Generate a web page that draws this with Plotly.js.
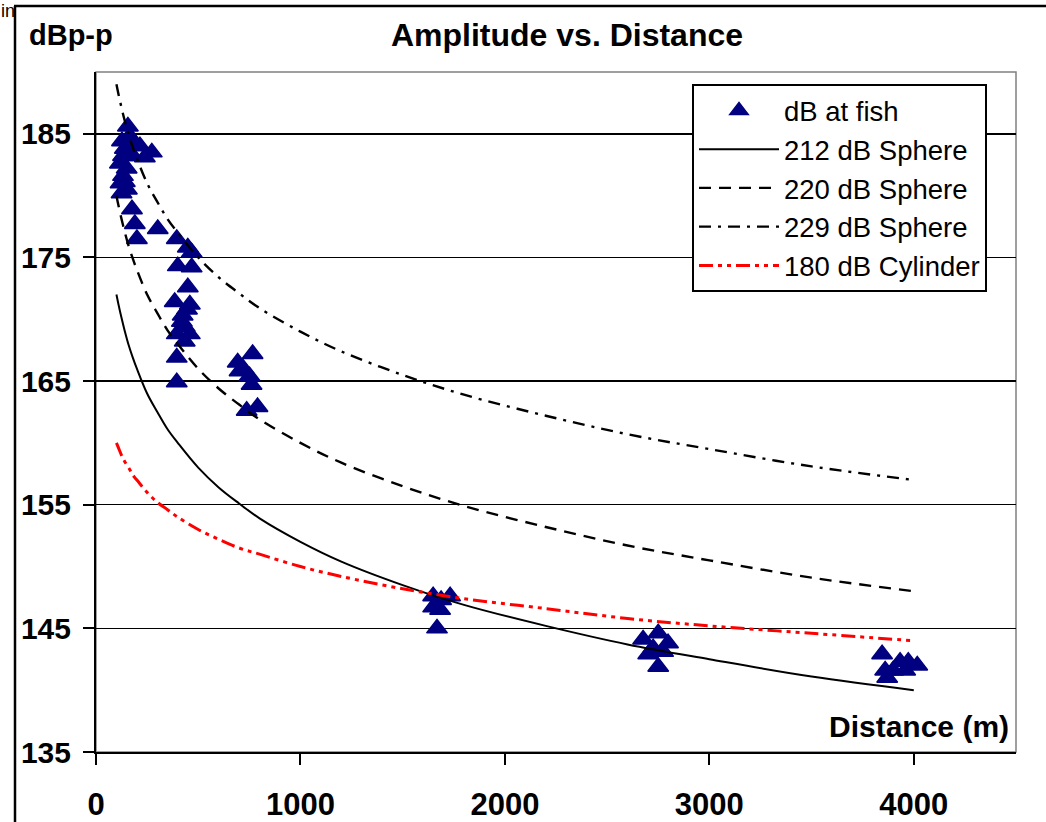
<!DOCTYPE html>
<html>
<head>
<meta charset="utf-8">
<script src="https://cdn.plot.ly/plotly-3.0.1.min.js"></script>
<style>
  html, body { margin: 0; padding: 0; background: #fff; }
  #chart { width: 1046px; height: 822px; }
  #corner { position: absolute; left: 0; top: 0; height: 24px;
            font-family: 'Liberation Sans', Arial, sans-serif; font-size: 18px; line-height: 22px;
            color: #000; z-index: 5; white-space: nowrap; padding-left: 1px; }
</style>
</head>
<body>
<div id="corner">in</div>
<div id="chart"></div>
<script>
// ---- data ----
const fishDistance = [156,215,273,127,132,180,239,117,141,132,141,151,120,176,190,302,200,165,190,150,125,
  395,449,468,400,468,449,385,459,424,434,395,459,434,395,395,420,445,
  693,766,702,751,761,737,790,720,
  1649,1688,1732,1649,1683,1668,
  2676,2750,2798,2725,2774,2750,2701,
  3845,3860,3870,3933,3973,4017,3899,3958];
const fishDb = [185.6,184.0,183.5,184.4,183.2,183.2,183.1,182.6,183.8,181.6,181.1,180.5,181.0,178.9,177.7,177.3,176.5,184.8,184.2,182.2,180.2,
  176.5,175.8,175.4,174.3,174.2,172.6,171.4,171.2,170.3,169.4,168.8,168.8,168.2,166.9,164.9,169.8,170.8,
  166.5,167.2,165.8,165.4,164.7,162.6,162.9,166.0,
  147.6,147.3,147.6,146.7,146.5,145.0,
  144.1,144.6,143.8,143.4,143.1,141.9,142.9,
  142.9,141.6,141.0,142.3,142.3,142.0,141.6,141.6];

const curveDistance = [100,110,125,140,160,180,200,250,300,350,400,500,600,700,800,1000,1200,1500,1800,2200,2600,3000,3500,4000];
const sphere212 = [172.0,171.2,170.1,169.1,167.9,166.9,166.0,164.0,162.5,161.1,160.0,158.0,156.4,155.1,153.9,152.0,150.4,148.5,146.9,145.2,143.7,142.5,141.1,140.0];
const sphere220 = [180.0,179.2,178.1,177.1,175.9,174.9,174.0,172.0,170.5,169.1,168.0,166.0,164.4,163.1,161.9,160.0,158.4,156.5,154.9,153.2,151.7,150.5,149.1,148.0];
const sphere229 = [189.0,188.2,187.1,186.1,184.9,183.9,183.0,181.0,179.5,178.1,177.0,175.0,173.4,172.1,170.9,169.0,167.4,165.5,163.9,162.2,160.7,159.5,158.1,157.0];
const cylinder180 = [160.0,159.6,159.0,158.5,158.0,157.4,157.0,156.0,155.2,154.6,154.0,153.0,152.2,151.5,151.0,150.0,149.2,148.2,147.4,146.6,145.8,145.2,144.6,144.0];

const seriesNames = ['dB at fish','212 dB Sphere','220 dB Sphere','229 dB Sphere','180 dB Cylinder'];
const chartTitle = 'Amplitude vs. Distance';
const yLabel = 'dBp-p';
const xLabel = 'Distance (m)';

// ---- figure ----
const FONT = 'Liberation Sans, Arial, sans-serif';
const traces = [
  {x: fishDistance, y: fishDb, name: seriesNames[0], type: 'scatter', mode: 'markers', legendgroup: 'a',
   marker: {symbol: 'triangle-up', size: 18, color: '#000080', line: {color: '#000080', width: 1.5}}},
  {x: curveDistance, y: sphere212, name: seriesNames[1], type: 'scatter', mode: 'lines', legendgroup: 'b',
   line: {color: '#000', width: 2, shape: 'spline'}},
  {x: curveDistance, y: sphere220, name: seriesNames[2], type: 'scatter', mode: 'lines', legendgroup: 'c',
   line: {color: '#000', width: 2.4, dash: '12px,8px', shape: 'spline'}},
  {x: curveDistance, y: sphere229, name: seriesNames[3], type: 'scatter', mode: 'lines', legendgroup: 'd',
   line: {color: '#000', width: 2.4, dash: '12px,7px,3px,7px', shape: 'spline'}},
  {x: curveDistance, y: cylinder180, name: seriesNames[4], type: 'scatter', mode: 'lines', legendgroup: 'e',
   line: {color: '#ff0000', width: 3, dash: '14px,5px,4px,5px,4px,5px', shape: 'spline'}}
];

const W = 920, H = 680, L = 96, T = 72;
const px = v => (v - L) / W;          // pixel x -> paper x
const py = v => (T + H - v) / H;      // pixel y -> paper y

const layout = {
  width: 1046, height: 822,
  margin: {l: L, r: 30, t: T, b: 70, pad: 0},
  paper_bgcolor: '#fff', plot_bgcolor: '#fff',
  showlegend: true,
  font: {family: FONT, color: '#000'},
  title: {text: chartTitle, font: {family: FONT, size: 32, weight: 'bold', color: '#000'},
          xref: 'paper', x: px(567), xanchor: 'center', yref: 'container', y: 1 - 35/822, yanchor: 'middle'},
  xaxis: {range: [0, 4500], tick0: 0, dtick: 1000, showgrid: false, zeroline: false,
          showline: true, linecolor: '#000', linewidth: 2, ticks: 'outside', ticklen: 11, tickwidth: 2, tickcolor: '#000',
          tickfont: {family: FONT, size: 31, weight: 'bold', color: '#000'}, ticklabelstandoff: 13},
  yaxis: {range: [135, 190], tick0: 135, dtick: 10, showgrid: true, gridcolor: '#000', gridwidth: 1.5, zeroline: false,
          showline: true, linecolor: '#000', linewidth: 2, ticks: 'outside', ticklen: 11, tickwidth: 2, tickcolor: '#000',
          tickfont: {family: FONT, size: 30, weight: 'bold', color: '#000'}, ticklabelstandoff: 6},
  legend: {x: px(692), y: py(84), xanchor: 'left', yanchor: 'top', bgcolor: '#fff', bordercolor: '#000', borderwidth: 2,
           font: {family: FONT, size: 27.5, color: '#000'}, itemwidth: 80, tracegroupgap: 2, traceorder: 'normal'},
  shapes: [
    {type: 'rect', xref: 'paper', yref: 'paper', x0: 0, x1: 1, y0: 0, y1: 1, line: {color: '#808080', width: 1.5}, layer: 'below'},
    {type: 'line', xref: 'paper', yref: 'paper', x0: px(15), x1: px(15), y0: py(6), y1: py(830), line: {color: '#000', width: 2.5}},
    {type: 'line', xref: 'paper', yref: 'paper', x0: px(14), x1: px(1050), y0: py(6), y1: py(6), line: {color: '#000', width: 2.5}}
  ],
  annotations: [
    {text: yLabel, xref: 'paper', yref: 'paper', x: px(27), y: py(35), xanchor: 'left', yanchor: 'middle', showarrow: false,
     font: {family: FONT, size: 29, weight: 'bold', color: '#000'}},
    {text: xLabel, xref: 'paper', yref: 'paper', x: px(1011), y: py(726), xanchor: 'right', yanchor: 'middle', showarrow: false,
     font: {family: FONT, size: 30, weight: 'bold', color: '#000'}}
  ]
};

Plotly.newPlot('chart', traces, layout, {displayModeBar: false, staticPlot: true});
</script>
</body>
</html>
